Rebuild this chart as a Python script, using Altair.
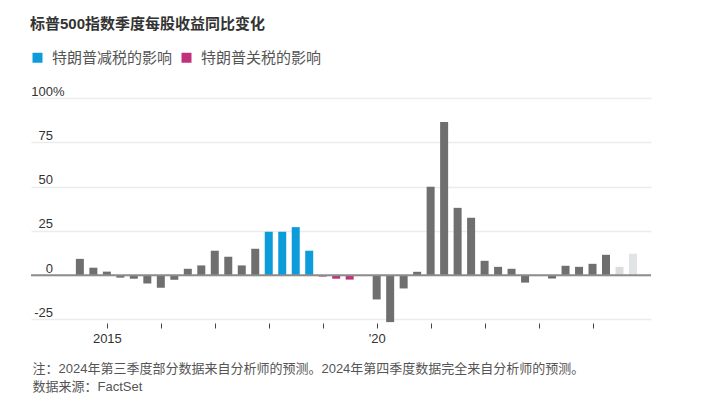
import altair as alt
import pandas as pd

# Quarter labels (2014 Q3 .. 2024 Q4)
quarters = [f"{y}Q{q}" for y in range(2014, 2025) for q in range(1, 5)][2:]
# Year-over-year change in S&P 500 quarterly EPS, %
values = [9.2, 4.2, 2.0, -1.4, -2.0, -4.7, -7.1, -2.6, 3.6, 5.5,
          13.8, 10.4, 5.5, 14.9, 24.5, 24.5, 27.1, 13.8, -0.8, -2.0,
          -2.5, 0.0, -13.7, -26.5, -7.5, 1.9, 49.9, 86.5, 38.0, 32.4,
          8.1, 4.7, 3.6, -4.2, 0.0, -1.9, 5.3, 4.7, 6.4, 11.5,
          4.7, 12.1]
# Category of each bar
groups = (["实际"] * 14 + ["特朗普减税的影响"] * 4 + ["特朗普关税的影响"] * 3
          + ["实际"] * 19 + ["部分预测", "完全预测"])

cat_domain = ["特朗普减税的影响", "特朗普关税的影响", "实际", "部分预测", "完全预测"]
cat_colors = ["#0c9cda", "#c1307b", "#6f6f6f", "#dcdcdc", "#e1e4e5"]

y_ticks = [-25, 0, 25, 50, 75, 100]
x_ticks = list(range(2015, 2025))

def q_to_t(q):
    return int(q[:4]) + (int(q[-1]) - 1) / 4

df = pd.DataFrame({
    "quarter": quarters,
    "t": [q_to_t(q) for q in quarters],
    "value": values,
    "group": groups,
})

FONT = "'Liberation Sans', 'Noto Sans CJK SC', sans-serif"

notes = ["注：2024年第三季度部分数据来自分析师的预测。2024年第四季度数据完全来自分析师的预测。",
         "数据来源：FactSet"]

bars = alt.Chart(df).mark_bar(size=8).encode(
    x=alt.X("t:Q",
            scale=alt.Scale(domain=[2013.687, 2024.991], nice=False, zero=False),
            axis=alt.Axis(values=x_ticks,
                          labelExpr="datum.value == 2015 ? '2015' : (datum.value == 2020 ? \"'20\" : '')",
                          tickSize=5, tickColor="#444", tickWidth=1, domain=False, grid=False,
                          labelFontSize=13, labelColor="#333", labelPadding=4,
                          labelFont=FONT, labelFlush=False, labelOverlap=False,
                          title=notes, titleAnchor="start", titleAlign="left",
                          titleX=1, titleY=49, titleBaseline="alphabetic",
                          titleFontSize=13, titleFontWeight="normal", titleColor="#555",
                          titleLineHeight=18, titleFont=FONT)),
    y=alt.Y("value:Q",
            scale=alt.Scale(domain=[-27, 100], nice=False),
            axis=alt.Axis(values=y_ticks, title=None, ticks=False, tickSize=0, domain=False,
                          grid=True, gridColor="#ececec", gridWidth=1.6,
                          labelExpr="datum.value == 100 ? '100%' : '' + datum.value",
                          labelAlign="right", labelBaseline="alphabetic",
                          labelPadding={"condition": {"test": "datum.value == 100", "value": -33},
                                        "value": -21.5},
                          labelOffset=-3, labelFontSize=13, labelColor="#333",
                          labelFont=FONT)),
    color=alt.Color("group:N",
                    scale=alt.Scale(domain=cat_domain, range=cat_colors),
                    legend=alt.Legend(values=cat_domain[:2], title=None, orient="none",
                                      legendX=-1, legendY=-48, direction="horizontal",
                                      symbolType="square", symbolSize=100, symbolStrokeWidth=0,
                                      labelFontSize=15, labelColor="#555", labelFont=FONT,
                                      labelOffset=7, columnPadding=6)),
)

zero = alt.Chart(pd.DataFrame({"v": [0]})).mark_rule(color="#8c8c8c", strokeWidth=2).encode(
    y=alt.Y("v:Q")
)

chart = alt.layer(bars, zero).properties(
    width=620, height=225,
    autosize=alt.AutoSizeParams(type="none"),
    padding={"left": 23, "top": 90, "right": 44, "bottom": 70},
    title=alt.TitleParams("标普500指数季度每股收益同比变化", anchor="start", fontSize=15,
                          fontWeight="bold", color="#333", font=FONT, offset=0, dy=-18),
).configure_view(stroke=None)

chart.save("out.html", embed_options={"renderer": "svg", "actions": False})
